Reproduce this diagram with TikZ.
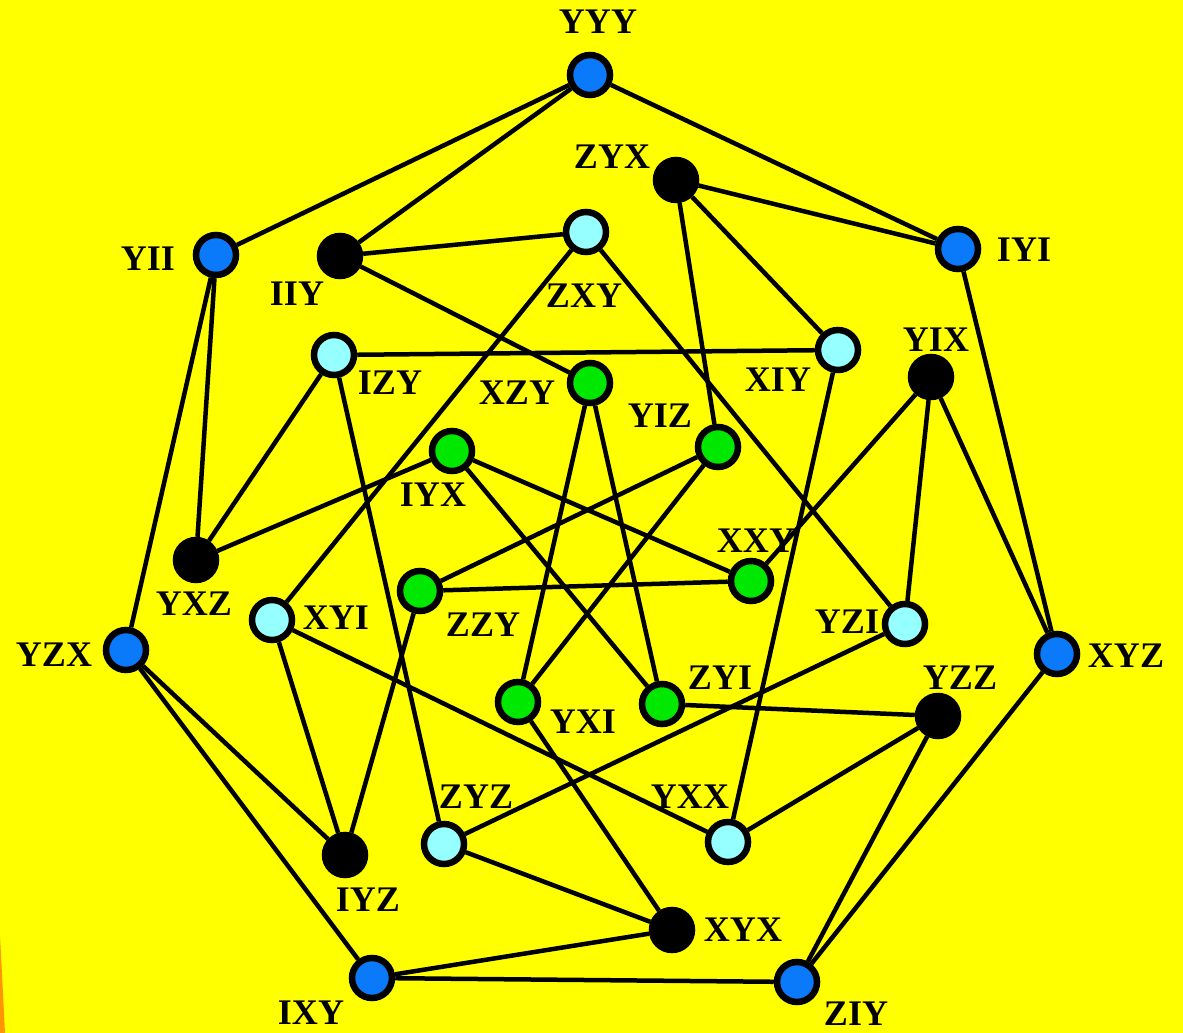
\documentclass[tikz,border=0pt]{standalone}
\usepackage{fontspec}
\setmainfont{Liberation Serif}
\usetikzlibrary{backgrounds}
\pgfdeclarelayer{paper}
\pgfsetlayers{paper,background,main}
\definecolor{bgyellow}{RGB}{255,255,0}
\definecolor{edgeorange}{RGB}{255,150,0}
\definecolor{vblue}{RGB}{10,122,250}
\definecolor{vcyan}{RGB}{150,255,255}
\definecolor{vgreen}{RGB}{0,232,0}
\tikzset{
  vert/.style={circle, draw=black, line width=6.5*0.02cm, minimum size=40*0.02cm, inner sep=0pt},
  bluev/.style={vert, fill=vblue},
  blackv/.style={vert, fill=black},
  cyanv/.style={vert, fill=vcyan},
  greenv/.style={vert, fill=vgreen},
  lab/.style={inner sep=0pt, font=\fontsize{20.5}{24}\selectfont\bfseries},
  link/.style={line width=4.5*0.02cm, black}
}
\begin{document}
\begin{tikzpicture}[x=0.02cm, y=-0.02cm]
% page and the orange sliver at the lower left
\begin{pgfonlayer}{paper}
\fill[bgyellow] (0,0) rectangle (1183,1033);
\fill[edgeorange] (0,935) -- (5,1033) -- (0,1033) -- cycle;
\end{pgfonlayer}
\useasboundingbox (0,0) rectangle (1183,1033);

% outer ring
\node[bluev] (YYY) at (590,75) {};
\node[bluev] (IYI) at (958,249) {};
\node[bluev] (XYZ) at (1057,654) {};
\node[bluev] (ZIY) at (797,982) {};
\node[bluev] (IXY) at (372,978) {};
\node[bluev] (YZX) at (126,650) {};
\node[bluev] (YII) at (216,255) {};
% black vertices
\node[blackv] (ZYX) at (676,180) {};
\node[blackv] (IIY) at (340,256) {};
\node[blackv] (YIX) at (931,377) {};
\node[blackv] (YZZ) at (938,716) {};
\node[blackv] (XYX) at (672,930) {};
\node[blackv] (IYZ) at (345,855) {};
\node[blackv] (YXZ) at (196,560) {};
% light vertices
\node[cyanv] (ZXY) at (586,232) {};
\node[cyanv] (XIY) at (838,350) {};
\node[cyanv] (YZI) at (905,624) {};
\node[cyanv] (YXX) at (728,842) {};
\node[cyanv] (ZYZ) at (444,844) {};
\node[cyanv] (XYI) at (272,620) {};
\node[cyanv] (IZY) at (334,355) {};
% inner vertices
\node[greenv] (XZY) at (590,383) {};
\node[greenv] (YIZ) at (718,447) {};
\node[greenv] (XXY) at (751,581) {};
\node[greenv] (ZYI) at (662,704) {};
\node[greenv] (YXI) at (518,702) {};
\node[greenv] (ZZY) at (420,591) {};
\node[greenv] (IYX) at (452,451) {};

% labels
\node[lab] (lYYY) at (598,22) {YYY};
\node[lab] (lIYI) at (1024,250) {IYI};
\node[lab] (lXYZ) at (1126,656) {XYZ};
\node[lab] (lZIY) at (856,1014) {ZIY};
\node[lab] (lIXY) at (311,1013) {IXY};
\node[lab] (lYZX) at (54,655) {YZX};
\node[lab] (lYII) at (148,259) {YII};
\node[lab] (lZYX) at (612,157) {ZYX};
\node[lab] (lIIY) at (297,294) {IIY};
\node[lab] (lYIX) at (936,340) {YIX};
\node[lab] (lYZZ) at (960,678) {YZZ};
\node[lab] (lXYX) at (743,930) {XYX};
\node[lab] (lIYZ) at (368,900) {IYZ};
\node[lab] (lYXZ) at (194,604) {YXZ};
\node[lab] (lZXY) at (584,296) {ZXY};
\node[lab] (lXIY) at (778,380) {XIY};
\node[lab] (lYZI) at (847,622) {YZI};
\node[lab] (lYXX) at (690,797) {YXX};
\node[lab] (lZYZ) at (476,797) {ZYZ};
\node[lab] (lXYI) at (336,618) {XYI};
\node[lab] (lIZY) at (390,383) {IZY};
\node[lab] (lXZY) at (517,393) {XZY};
\node[lab] (lYIZ) at (660,416) {YIZ};
\node[lab] (lXXY) at (756,541) {XXY};
\node[lab] (lZYI) at (720,678) {ZYI};
\node[lab] (lYXI) at (583,722) {YXI};
\node[lab] (lZZY) at (483,625) {ZZY};
\node[lab] (lIYX) at (433,495) {IYX};

% edges, drawn beneath the vertices
\begin{scope}[on background layer]
\draw[link] (YYY) -- (IYI) (IYI) -- (XYZ) (XYZ) -- (ZIY) (ZIY) -- (IXY)
            (IXY) -- (YZX) (YZX) -- (YII) (YII) -- (YYY);
\draw[link] (YYY) -- (IIY);
\draw[link] (YII) -- (YXZ);
\draw[link] (IIY) -- (ZXY) (IIY) -- (XZY);
\draw[link] (ZYX) -- (IYI) (ZYX) -- (XIY) (ZYX) -- (YIZ);
\draw[link] (ZXY) -- (XYI) (ZXY) -- (YZI);
\draw[link] (IZY) -- (XIY) (IZY) -- (YXZ) (IZY) -- (ZYZ);
\draw[link] (XIY) -- (YXX);
\draw[link] (YIX) -- (XXY) (YIX) -- (YZI) (YIX) -- (XYZ);
\draw[link] (XZY) -- (YXI) (XZY) -- (ZYI);
\draw[link] (YIZ) -- (ZZY) (YIZ) -- (YXI);
\draw[link] (IYX) -- (YXZ) (IYX) -- (XXY) (IYX) -- (ZYI);
\draw[link] (ZZY) -- (XXY) (ZZY) -- (IYZ);
\draw[link] (YZX) -- (IYZ);
\draw[link] (XYI) -- (IYZ) (XYI) -- (YXX);
\draw[link] (YZI) -- (ZYZ);
\draw[link] (ZYI) -- (YZZ);
\draw[link] (YZZ) -- (YXX) (YZZ) -- (ZIY);
\draw[link] (YXI) -- (XYX);
\draw[link] (ZYZ) -- (XYX);
\draw[link] (XYX) -- (IXY);
\end{scope}
\end{tikzpicture}
\end{document}
